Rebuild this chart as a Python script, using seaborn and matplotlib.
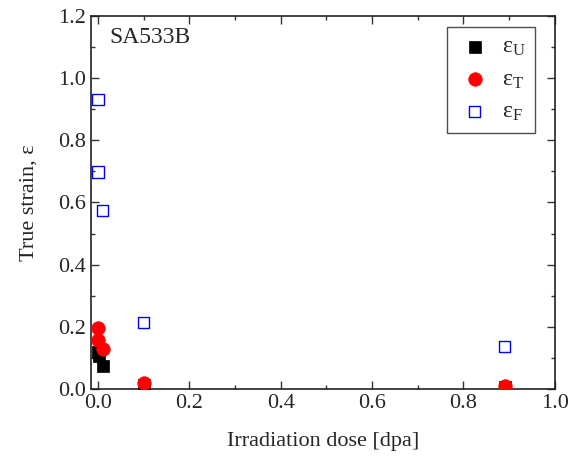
import numpy as np
import pandas as pd
import matplotlib
matplotlib.use("Agg")
import matplotlib.pyplot as plt
import seaborn as sns
from matplotlib.ticker import MultipleLocator

# data
dose_u = [0.0, 0.002, 0.01, 0.1, 0.89]
eps_u = [0.12, 0.105, 0.075, 0.012, 0.006]

dose_t = [0.0, 0.0, 0.01, 0.1, 0.89]
eps_t = [0.197, 0.157, 0.127, 0.018, 0.01]

dose_f = [0.0, 0.0, 0.01, 0.1, 0.89]
eps_f = [0.932, 0.698, 0.573, 0.213, 0.137]

sns.set_style("ticks")
plt.rcParams['font.family'] = ['Liberation Serif', 'DejaVu Serif']
plt.rcParams['mathtext.fontset'] = 'custom'
plt.rcParams['mathtext.rm'] = 'Liberation Serif'
plt.rcParams['mathtext.it'] = 'Liberation Serif'

df = pd.concat([
    pd.DataFrame({'dose': dose_u, 'eps': eps_u, 's': 'U'}),
    pd.DataFrame({'dose': dose_t, 'eps': eps_t, 's': 'T'}),
    pd.DataFrame({'dose': dose_f, 'eps': eps_f, 's': 'F'}),
])

fig = plt.figure(figsize=(5.81, 4.58), dpi=100)
ax = fig.add_axes([0.157, 0.151, 0.798, 0.814])

sns.scatterplot(data=df[df.s == 'U'], x='dose', y='eps', ax=ax, marker='s',
                color='black', edgecolor='black', s=65, linewidth=0.5,
                label='ε$_\\mathrm{U}$', zorder=3)
sns.scatterplot(data=df[df.s == 'T'], x='dose', y='eps', ax=ax, marker='o',
                color='red', edgecolor='red', s=95, linewidth=0.5,
                label='ε$_\\mathrm{T}$', zorder=4)
sns.scatterplot(data=df[df.s == 'F'], x='dose', y='eps', ax=ax, marker='s',
                facecolor='none', edgecolor='blue', s=65, linewidth=1.0,
                label='ε$_\\mathrm{F}$', zorder=5)

ax.set_xlim(-0.015, 1.0)
ax.set_ylim(0, 1.2)
ax.xaxis.set_major_locator(MultipleLocator(0.2))
ax.xaxis.set_minor_locator(MultipleLocator(0.1))
ax.yaxis.set_major_locator(MultipleLocator(0.2))
ax.yaxis.set_minor_locator(MultipleLocator(0.1))
ax.xaxis.set_major_formatter(plt.FormatStrFormatter('%.1f'))
ax.yaxis.set_major_formatter(plt.FormatStrFormatter('%.1f'))
ax.tick_params(which='both', direction='in', top=True, right=True,
               labelsize=16, width=1.0, color='#333333')
ax.tick_params(which='major', length=6)
ax.tick_params(which='minor', length=3)
for sp in ax.spines.values():
    sp.set_linewidth(1.2)
    sp.set_color('#222222')

ax.set_xlabel('Irradiation dose [dpa]', fontsize=16, labelpad=14)
ax.set_ylabel('True strain, ε', fontsize=16, labelpad=14)
ax.text(0.025, 1.13, 'SA533B', fontsize=17, va='center')

leg = ax.legend(loc='upper right', bbox_to_anchor=(0.957, 0.97), fontsize=17,
                frameon=True, fancybox=False, edgecolor='#222222',
                handletextpad=0.4, labelspacing=0.45, borderpad=0.4,
                handlelength=1.5, borderaxespad=0)
leg.get_frame().set_linewidth(1.0)

fig.savefig('out.png', dpi=100)
